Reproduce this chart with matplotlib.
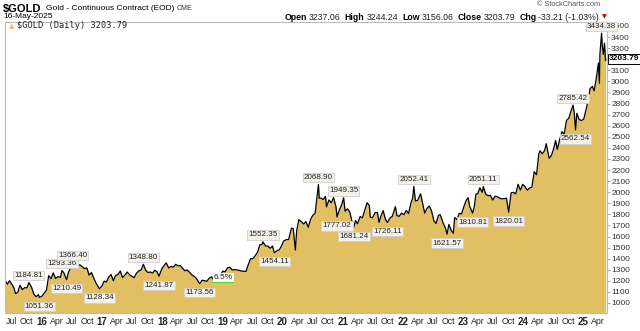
import matplotlib
matplotlib.use('Agg')
import matplotlib.pyplot as plt
import pandas as pd

plt.rcParams['font.family'] = ['Liberation Sans', 'DejaVu Sans']

# closing prices (roughly every two weeks, plus the swing points)
d15 = ['2015-05-22', '2015-06-05', '2015-06-19', '2015-07-03', '2015-07-17', '2015-07-24', '2015-08-07',
       '2015-08-21', '2015-09-04', '2015-09-18', '2015-10-02', '2015-10-14', '2015-10-30', '2015-11-13',
       '2015-11-27', '2015-12-11', '2015-12-17', '2015-12-31']
p15 = [1205, 1170, 1201, 1168, 1131, 1085, 1094, 1160, 1121, 1138, 1137, 1184.81, 1142, 1081, 1057, 1075,
       1051.36, 1060]
d16 = ['2016-01-15', '2016-01-29', '2016-02-11', '2016-02-26', '2016-03-10', '2016-03-24', '2016-04-08',
       '2016-04-22', '2016-05-02', '2016-05-13', '2016-05-30', '2016-06-10', '2016-06-24', '2016-07-06',
       '2016-07-22', '2016-08-05', '2016-08-19', '2016-09-02', '2016-09-16', '2016-09-30', '2016-10-14',
       '2016-10-28', '2016-11-11', '2016-11-25', '2016-12-15', '2016-12-30']
p16 = [1090, 1117, 1247, 1220, 1272, 1221, 1239, 1230, 1293.36, 1273, 1210.49, 1275, 1322, 1366.40, 1323,
       1335, 1345, 1327, 1310, 1317, 1251, 1275, 1224, 1178, 1128.34, 1152]
d17 = ['2017-01-13', '2017-01-27', '2017-02-10', '2017-02-24', '2017-03-10', '2017-03-24', '2017-04-07',
       '2017-04-21', '2017-05-05', '2017-05-19', '2017-06-02', '2017-06-16', '2017-06-30', '2017-07-14',
       '2017-07-28', '2017-08-11', '2017-08-25', '2017-09-08', '2017-09-22', '2017-10-06', '2017-10-20',
       '2017-11-03', '2017-11-17', '2017-12-01', '2017-12-12', '2017-12-29']
p17 = [1197, 1190, 1234, 1257, 1201, 1249, 1257, 1289, 1229, 1253, 1280, 1255, 1242, 1229, 1268, 1290,
       1297, 1348.80, 1297, 1275, 1280, 1270, 1296, 1280, 1241.87, 1309]
d18 = ['2018-01-12', '2018-01-25', '2018-02-09', '2018-02-23', '2018-03-09', '2018-03-23', '2018-04-06',
       '2018-04-20', '2018-05-04', '2018-05-18', '2018-06-01', '2018-06-15', '2018-06-29', '2018-07-13',
       '2018-07-27', '2018-08-16', '2018-08-31', '2018-09-14', '2018-09-28', '2018-10-12', '2018-10-26',
       '2018-11-09', '2018-11-23', '2018-12-07', '2018-12-21']
p18 = [1338, 1362, 1316, 1330, 1324, 1349, 1336, 1338, 1315, 1291, 1298, 1278, 1254, 1241, 1223, 1173.56,
       1206, 1201, 1196, 1222, 1236, 1210, 1223, 1252, 1258]
d19 = ['2019-01-04', '2019-01-18', '2019-02-01', '2019-02-15', '2019-03-01', '2019-03-15', '2019-03-29',
       '2019-04-12', '2019-04-26', '2019-05-10', '2019-05-24', '2019-06-07', '2019-06-21', '2019-07-05',
       '2019-07-19', '2019-08-02', '2019-08-16', '2019-08-30', '2019-09-04', '2019-09-20', '2019-10-04',
       '2019-10-18', '2019-11-01', '2019-11-12', '2019-11-29', '2019-12-13', '2019-12-27']
p19 = [1287, 1282, 1318, 1322, 1299, 1302, 1298, 1295, 1288, 1287, 1284, 1346, 1400, 1400, 1427, 1457,
       1524, 1529, 1552.35, 1515, 1513, 1494, 1514, 1454.11, 1472, 1481, 1519]
d20 = ['2020-01-08', '2020-01-24', '2020-02-07', '2020-02-24', '2020-03-06', '2020-03-19', '2020-03-27',
       '2020-04-09', '2020-04-24', '2020-05-08', '2020-05-22', '2020-06-05', '2020-06-19', '2020-07-02',
       '2020-07-17', '2020-07-31', '2020-08-06', '2020-08-11', '2020-08-21', '2020-09-04', '2020-09-18',
       '2020-09-24', '2020-10-09', '2020-10-23', '2020-11-06', '2020-11-20', '2020-11-27', '2020-12-11',
       '2020-12-24']
p20 = [1560, 1572, 1573, 1676, 1672, 1478, 1654, 1752, 1735, 1713, 1735, 1683, 1753, 1790, 1810, 1986,
       2068.90, 1946, 1947, 1934, 1962, 1868, 1930, 1905, 1951, 1872, 1777.02, 1840, 1883]
d21 = ['2021-01-06', '2021-01-15', '2021-01-29', '2021-02-12', '2021-02-26', '2021-03-08', '2021-03-19',
       '2021-03-31', '2021-04-16', '2021-04-30', '2021-05-14', '2021-05-28', '2021-06-11', '2021-06-17',
       '2021-06-30', '2021-07-16', '2021-07-30', '2021-08-09', '2021-08-20', '2021-09-03', '2021-09-17',
       '2021-09-29', '2021-10-15', '2021-10-29', '2021-11-16', '2021-11-26', '2021-12-10', '2021-12-23']
p21 = [1949.35, 1828, 1850, 1823, 1734, 1681.24, 1744, 1715, 1780, 1768, 1838, 1905, 1879, 1774, 1770,
       1815, 1817, 1728, 1784, 1834, 1754, 1726.11, 1768, 1784, 1870, 1788, 1783, 1811]
d22 = ['2022-01-07', '2022-01-21', '2022-02-04', '2022-02-18', '2022-03-01', '2022-03-08', '2022-03-18',
       '2022-04-01', '2022-04-18', '2022-04-29', '2022-05-13', '2022-05-27', '2022-06-10', '2022-06-24',
       '2022-07-08', '2022-07-21', '2022-08-05', '2022-08-15', '2022-09-02', '2022-09-16', '2022-09-26',
       '2022-10-07', '2022-10-21', '2022-11-03', '2022-11-11', '2022-11-25', '2022-12-09', '2022-12-23']
p22 = [1797, 1835, 1807, 1900, 1944, 2052.41, 1921, 1927, 1985, 1911, 1811, 1853, 1875, 1830, 1742, 1718,
       1791, 1798, 1722, 1677, 1621.57, 1709, 1656, 1629, 1771, 1754, 1810, 1804]
d23 = ['2023-01-06', '2023-01-20', '2023-02-01', '2023-02-10', '2023-02-28', '2023-03-10', '2023-03-20',
       '2023-03-31', '2023-04-13', '2023-04-28', '2023-05-04', '2023-05-19', '2023-06-02', '2023-06-16',
       '2023-06-30', '2023-07-14', '2023-07-28', '2023-08-11', '2023-08-25', '2023-09-08', '2023-09-22',
       '2023-10-05', '2023-10-20', '2023-11-03', '2023-11-17', '2023-12-01', '2023-12-15', '2023-12-29']
p23 = [1870, 1926, 1950, 1874, 1810.81, 1867, 1982, 1986, 2040, 1999, 2051.11, 1981, 1969, 1971, 1929,
       1964, 1960, 1946, 1940, 1942, 1945, 1820.01, 1994, 1999, 1985, 2072, 2019, 2071]
d24 = ['2024-01-12', '2024-01-26', '2024-02-09', '2024-02-23', '2024-03-08', '2024-03-22', '2024-04-05',
       '2024-04-12', '2024-04-26', '2024-05-10', '2024-05-20', '2024-06-07', '2024-06-21', '2024-07-05',
       '2024-07-16', '2024-07-26', '2024-08-09', '2024-08-23', '2024-09-06', '2024-09-20', '2024-10-04',
       '2024-10-18', '2024-10-30', '2024-11-07', '2024-11-14', '2024-11-22', '2024-12-06', '2024-12-20']
p24 = [2051, 2018, 2038, 2046, 2185, 2158, 2345, 2374, 2347, 2375, 2438, 2306, 2333, 2399, 2467, 2386,
       2470, 2546, 2524, 2647, 2667, 2736, 2785.42, 2705, 2562.54, 2712, 2657, 2646]
d25 = ['2025-01-03', '2025-01-17', '2025-01-31', '2025-02-10', '2025-02-24', '2025-03-07', '2025-03-21',
       '2025-04-02', '2025-04-08', '2025-04-11', '2025-04-21', '2025-04-25', '2025-05-02', '2025-05-09',
       '2025-05-15', '2025-05-16']
p25 = [2661, 2748, 2835, 2935, 2955, 2915, 3038, 3166, 2982, 3245, 3434.38, 3330, 3243, 3345, 3187, 3203.79]

# labelled swing highs / lows
highs = ['2015-10-14', '2016-05-02', '2016-07-06', '2017-09-08', '2019-09-04', '2020-08-06', '2021-01-06',
         '2022-03-08', '2023-05-04', '2024-10-30', '2025-04-21']
lows = ['2015-12-17', '2016-05-30', '2016-12-15', '2017-12-12', '2018-08-16', '2019-11-12', '2020-11-27',
        '2021-03-08', '2021-09-29', '2022-09-26', '2023-02-28', '2023-10-05', '2024-11-14']

# percent measure drawn on the chart
pct_start, pct_end, pct_level, pct_text = '2018-11-05', '2019-03-08', 1187, '6.5%'

header_vals = [('Open', '3237.06'), ('High', '3244.24'), ('Low', '3156.06'), ('Close', '3203.79'),
               ('Chg', '-33.21 (-1.03%)')]

dates = pd.to_datetime(d15 + d16 + d17 + d18 + d19 + d20 + d21 + d22 + d23 + d24 + d25)
prices = pd.Series(p15 + p16 + p17 + p18 + p19 + p20 + p21 + p22 + p23 + p24 + p25, index=dates)
last = prices.iloc[-1]

fig = plt.figure(figsize=(6.4, 3.31), dpi=100)
ax = fig.add_axes([5/640, 18/331, 602/640, 291/331])

ymin = 909.7
ax.fill_between(prices.index, prices.values, ymin, color='#E1BF62', lw=0)
ax.plot(prices.index, prices.values, color='black', lw=0.9)
ax.set_ylim(ymin, 3536)
ax.set_xlim(pd.Timestamp('2015-05-22'), pd.Timestamp('2025-05-24'))

# y axis on the right
ax.yaxis.tick_right()
yt = list(range(1000, 3600, 100))
ax.set_yticks(yt)
ax.set_yticklabels(['' if v == 3200 else str(v) for v in yt], fontsize=6, color='#333333')
ax.tick_params(axis='y', length=2, width=0.6, color='#999999', pad=1)

# quarterly month ticks, January shows the year
xt = pd.date_range('2015-07-01', '2025-04-01', freq='QS')
ax.set_xticks(xt)
labs = [t.strftime('%y') if t.month == 1 else t.strftime('%b') for t in xt]
ax.set_xticklabels(labs, fontsize=6.3, color='#222222')
for t, lab in zip(xt, ax.get_xticklabels()):
    if t.month == 1:
        lab.set_fontweight('bold')
        lab.set_fontsize(7)
ax.tick_params(axis='x', length=0, pad=3)

for s in ax.spines.values():
    s.set_color('#bbbbbb')
    s.set_linewidth(0.8)

box = dict(boxstyle='square,pad=0.15', fc='#f4f1ea', ec='#cfcfcf', lw=0.6)
for d in highs:
    v = prices[pd.Timestamp(d)]
    ax.annotate('%.2f' % v, (pd.Timestamp(d), v), xytext=(0, 5), textcoords='offset points',
                ha='center', va='center', fontsize=5.8, color='#222222', bbox=box, zorder=5)
for d in lows:
    v = prices[pd.Timestamp(d)]
    ax.annotate('%.2f' % v, (pd.Timestamp(d), v), xytext=(0, -6.5), textcoords='offset points',
                ha='center', va='center', fontsize=5.8, color='#222222', bbox=box, zorder=5)

# percent measure
ax.plot([pd.Timestamp(pct_start), pd.Timestamp(pct_end)], [pct_level, pct_level], color='#33dd33', lw=1.2)
ax.text(pd.Timestamp(pct_start) + (pd.Timestamp(pct_end) - pd.Timestamp(pct_start)) / 2, pct_level + 45,
        pct_text, ha='center', va='center', fontsize=6, color='#222222',
        bbox=dict(boxstyle='square,pad=0.1', fc='white', ec='none'), zorder=5)

# last price tag on the axis
ax.text(1.003, last, '%.2f' % last, transform=ax.get_yaxis_transform(), ha='left', va='center',
        fontsize=6, fontweight='bold', color='black',
        bbox=dict(boxstyle='square,pad=0.15', fc='white', ec='black', lw=0.7), clip_on=False, zorder=6)

# in-chart legend
ax.text(4/602, 1 - 4/291, '\u25b2', transform=ax.transAxes, ha='left', va='center', fontsize=5,
        color='#E1BF62', family='DejaVu Sans')
ax.text(12/602, 1 - 4/291, '$GOLD (Daily) %.2f' % last, transform=ax.transAxes, ha='left',
        va='center', fontsize=6.2, color='#222222', family='DejaVu Sans Mono')

# header
renderer = fig.canvas.get_renderer()
ttl = fig.text(3/640, 1 - 9/331, '$GOLD', fontsize=8, fontweight='bold', ha='left', va='center')
sx = 3 + ttl.get_window_extent(renderer).width + 4
sub = fig.text(sx/640, 1 - 9/331, 'Gold - Continuous Contract (EOD)', fontsize=6, ha='left', va='center')
sx = sx + sub.get_window_extent(renderer).width + 3
fig.text(sx/640, 1 - 9/331, 'CME', fontsize=5, ha='left', va='center', color='#333333')
fig.text(3/640, 1 - 17/331, '16-May-2025', fontsize=6, ha='left', va='center')
fig.text(600/640, 1 - 5/331, '\u00a9 StockCharts.com', fontsize=5.3, ha='right', va='center', color='#555555')

# open/high/low/close line, laid out piece by piece and right-aligned
pieces = []
for name, val in header_vals:
    pieces.append(fig.text(0, 1 - 17/331, name, fontsize=6.3, fontweight='bold', ha='left', va='center'))
    pieces.append(fig.text(0, 1 - 17/331, val, fontsize=6.3, ha='left', va='center', color='#222222'))
widths = [p.get_window_extent(renderer).width for p in pieces]
gaps = [2 if i % 2 == 0 else 4 for i in range(len(pieces))]
x = 599 - (sum(widths) + sum(gaps[:-1]))
for p, w, g in zip(pieces, widths, gaps):
    p.set_x(x/640)
    x += w + g
fig.text((x - 1)/640, 1 - 17/331, '\u25bc', fontsize=4.5, ha='left', va='center', color='#cc0000',
         family='DejaVu Sans')

fig.savefig('out.png', dpi=100)
